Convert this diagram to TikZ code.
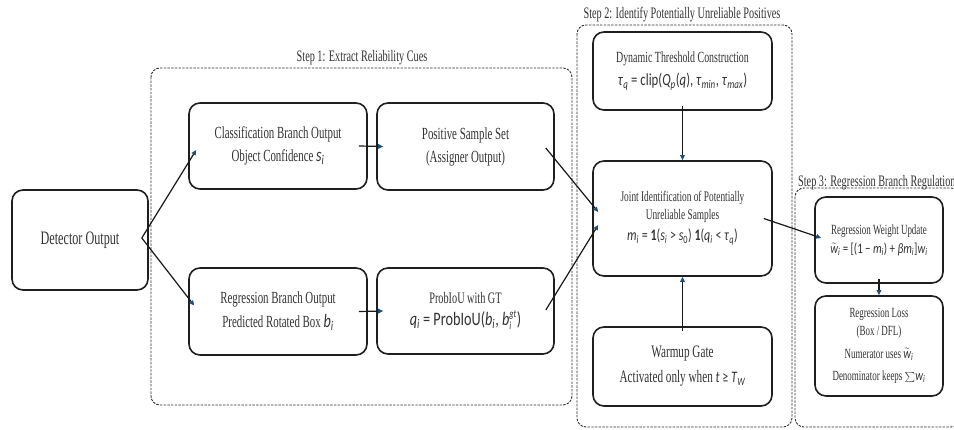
\documentclass[tikz,border=0pt]{standalone}
\usepackage{fontspec}
\setmainfont{Liberation Serif}[FakeStretch=0.64]
\newfontfamily\mf{Carlito}[FakeStretch=0.75]
\usetikzlibrary{arrows.meta,calc}
\definecolor{tipblue}{HTML}{1F4E79}
\definecolor{txt}{HTML}{333333}
\newcommand\vi[1]{\textit{#1}}
\newcommand\sbi[1]{\textsubscript{\itshape #1}}
\newcommand\sbu[1]{\textsubscript{#1}}
\newcommand\fs[2]{\fontsize{#1}{#2}\selectfont}
\newcommand\tw{$\tilde{\textit{w}}$}
\newcommand\scr[1]{\hbox{\fs{11}{11}\itshape #1}}
\tikzset{
  box/.style={draw=black!88, line width=1.6pt, rounded corners=11pt, align=center, text=txt, inner sep=2pt},
  stage/.style={draw=black!82, line width=0.9pt, dash pattern=on 2.4pt off 1.3pt, rounded corners=9pt},
  arr/.style={draw=black!90, line width=1.2pt, -{Triangle[length=5pt,width=4.5pt,color=tipblue,fill=tipblue]}},
  lbl/.style={font=\fs{16}{19}, text=txt, inner sep=0pt},
}
\begin{document}
\begin{tikzpicture}[x=1pt,y=-1pt]
\useasboundingbox (0,0) rectangle (954,430);
\fill[white] (0,0) rectangle (954,430);

% stage frames
\draw[stage] (151,68) rectangle (572,405);
\draw[stage] (577,25) rectangle (792,427);
\draw[stage] (795,188) rectangle (960,427);
\node[lbl] (l1) at (362,58) {Step 1: Extract Reliability Cues};
\node[lbl] (l2) at (682,15) {Step 2: Identify Potentially Unreliable Positives};
\node[lbl, anchor=west] (l3) at (798,183) {Step 3: Regression Branch Regulation};

% boxes
\node[box, minimum width=136pt, minimum height=100pt, font=\fs{19}{23}] (det) at (80,240) {Detector Output};
\node[box, minimum width=178pt, minimum height=86pt, font=\fs{17}{23}] (cls) at (278,146)
  {Classification Branch Output\\Object Confidence {\mf\fs{19}{23}\vi{s}\sbi{i}}};
\node[box, minimum width=177pt, minimum height=87pt, font=\fs{17}{23}] (pos) at (465.5,146.5)
  {Positive Sample Set\\(Assigner Output)};
\node[box, minimum width=178pt, minimum height=87pt, font=\fs{17}{24}] (reg) at (278,311.5)
  {Regression Branch Output\\Predicted Rotated Box {\mf\fs{19}{24}\vi{b}\sbi{i}}};
\node[box, minimum width=177pt, minimum height=86pt, font=\fs{16}{22}] (prob) at (465.5,311)
  {ProbIoU with GT\\{\mf\fs{19}{22}\vi{q}\sbi{i} = ProbIoU(\vi{b}\sbi{i}, $\textit{b}_{\scr{i}}^{\scr{gt}}$)}};
\node[box, minimum width=179pt, minimum height=78pt, font=\fs{15.5}{23}] (dyn) at (682.5,71)
  {Dynamic Threshold Construction\\{\mf\fs{17}{23}\vi{τ}\sbi{q} = clip(\vi{Q}\sbi{p}(\vi{q}), \vi{τ}\sbi{min}, \vi{τ}\sbi{max})}};
\node[box, minimum width=179pt, minimum height=115pt, font=\fs{14.6}{18}] (joint) at (682.5,218.5)
  {Joint Identification of Potentially\\Unreliable Samples\\[3pt]{\mf\fs{16}{20}\vi{m}\sbi{i} = \textbf{1}(\vi{s}\sbi{i} > \vi{s}\sbu{0})\,\textbf{1}(\vi{q}\sbi{i} < \vi{τ}\sbi{q})}};
\node[box, minimum width=179pt, minimum height=79pt, font=\fs{17.5}{25}] (warm) at (682.5,366.5)
  {Warmup Gate\\Activated only when {\mf\fs{16}{25}\vi{t} ≥ \vi{T}\sbi{W}}};
\node[box, minimum width=128pt, minimum height=86pt, font=\fs{14}{19}] (rwu) at (879,240)
  {Regression Weight Update\\{\mf\fs{14.5}{19}\tw\sbi{i} = [(1 − \vi{m}\sbi{i}) + \vi{βm}\sbi{i}]\vi{w}\sbi{i}}};
\node[box, minimum width=128pt, minimum height=100pt, font=\fs{14}{18}] (rl) at (879,346)
  {Regression Loss\\(Box / DFL)\\[5pt]Numerator uses {\mf\fs{14.5}{18}\tw\sbi{i}}\\[4pt]Denominator keeps {\mf\fs{14.5}{18}$\textstyle\sum$\vi{w}\sbi{i}}};

% connectors
\coordinate (apex) at ($(det.east)+(-7,-2)$);
\draw[arr] (apex) -- ($(cls.west)+(8,4)$);
\draw[arr] (apex) -- ($(reg.west)+(6,-6)$);
\draw[arr] ($(cls.east)+(-9,0)$) -- ($(pos.west)+(7,0)$);
\draw[arr] ($(reg.east)+(-9,0)$) -- ($(prob.west)+(7,0)$);
\draw[arr] ($(pos.east)+(-9,1.5)$) -- ($(joint.west)+(6,-6.5)$);
\draw[arr] ($(prob.east)+(-9,-1)$) -- ($(joint.west)+(6,6.5)$);
\draw[arr] ($(dyn.south)+(0,-5)$) -- (joint.north);
\draw[arr] ($(warm.north)+(0,5)$) -- (joint.south);
\draw[arr] ($(joint.east)+(-9,0)$) -- ($(rwu.west)+(7,-2)$);
\draw[arr] ($(rwu.south)+(0,-5)$) -- (rl.north);
\end{tikzpicture}
\end{document}
